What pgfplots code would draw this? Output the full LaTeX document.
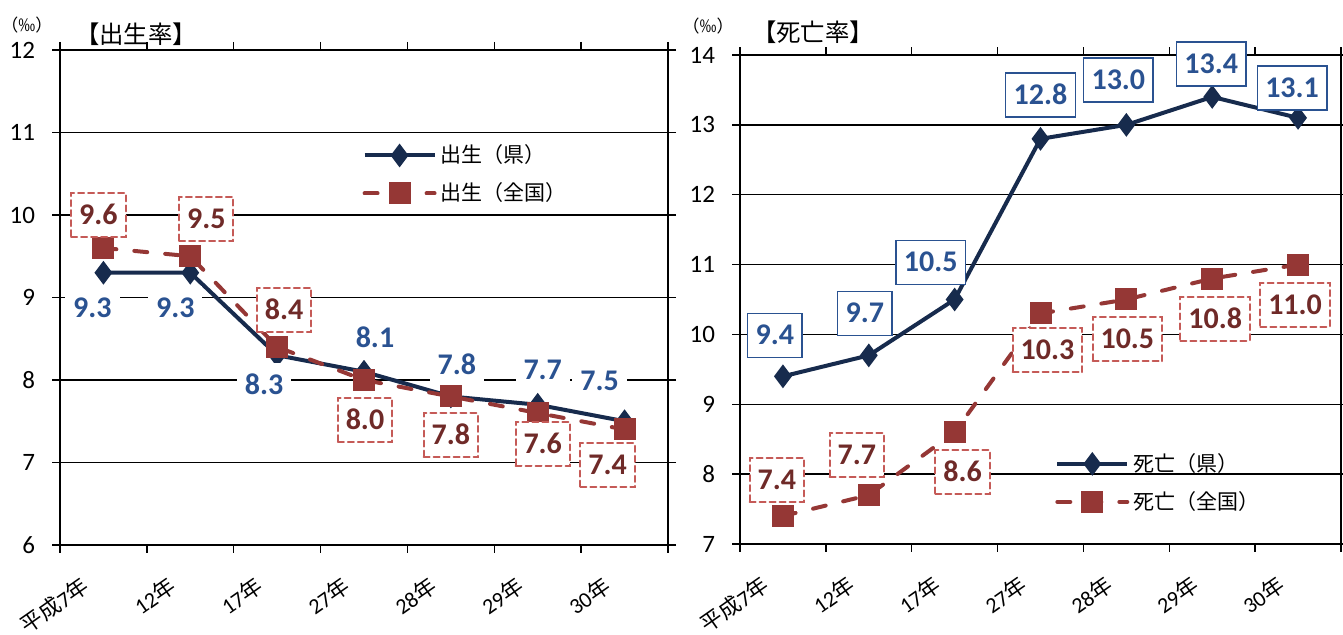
\documentclass[border=0pt]{standalone}
\usepackage{fontspec}
\setmainfont{Carlito}
\newfontfamily\jp{Noto Sans CJK JP}
\usepackage{pgfplots}
\pgfplotsset{compat=1.18}
\usepackage{pgfplotstable}

\definecolor{prefline}{HTML}{172B4D}
\definecolor{natline}{HTML}{953735}
\definecolor{nattext}{HTML}{6F2A28}
\definecolor{natborder}{HTML}{C55A57}
\definecolor{preftext}{HTML}{2A5291}

\pgfplotstableread{
x y dx dy
0 9.3 -5.5 -17.5
1 9.3 -7.5 -17.5
2 8.3 -6.5 -15
3 8.1 5.5 17
4 7.8 3 15.5
5 7.7 2.5 17.5
6 7.5 -12.5 20
}\birthpref
\pgfplotstableread{
x y dx dy
0 9.6 -2.5 16.5
1 9.5 8 18.5
2 8.4 3.5 18.5
3 8.0 0.5 -20
4 7.8 0 -19.5
5 7.6 2.5 -15.5
6 7.4 -8.5 -18
}\birthnat
\pgfplotstableread{
x y dx dy
0 9.4 -4 20.5
1 9.7 -2 21
2 10.5 -12 18.5
3 12.8 0 22
4 13.0 -4 22.5
5 13.4 -0.5 16.5
6 13.1 -3 15
}\deathpref
\pgfplotstableread{
x y dx dy
0 7.4 -3 18
1 7.7 -6 20
2 8.6 4 -20
3 10.3 3.5 -18.5
4 10.5 0.5 -20
5 10.8 1.5 -20
6 11.0 -1.5 -20
}\deathnat

\tikzset{
  natlabel/.style={draw=natborder, line width=1pt, dash pattern=on 3pt off 2pt, text=nattext},
  preflabelL/.style={draw=none, text=preftext},
  preflabelR/.style={draw=preftext, line width=0.7pt, solid, text=preftext},
}

\pgfplotsset{
  myaxis/.style={
    scale only axis,
    anchor=south west,
    xmin=-0.5, xmax=6.5,
    xtick={-0.5,0.5,...,6.5},
    xticklabels={{{\jp 平成}7{\jp 年}},{12{\jp 年}},{17{\jp 年}},{27{\jp 年}},{28{\jp 年}},{29{\jp 年}},{30{\jp 年}},{}},
    tick align=outside,
    major tick length=4pt,
    tick style={black, line width=0.7pt},
    axis line style={black, line width=0.9pt},
    ymajorgrids,
    grid style={black, line width=0.7pt},
    xticklabel style={font=\fontsize{11}{13}\selectfont, xshift=11pt, yshift=-6pt, rotate=35, anchor=north east},
    yticklabel style={font=\fontsize{12.5}{14}\selectfont, xshift=-5pt},
    /pgf/number format/assume math mode=true,
    clip=false,
    legend cell align=left,
    legend style={draw=none, fill=none, inner sep=0pt, anchor=west,
      font=\jp\fontsize{10.5}{12}\selectfont, row sep=4.5pt},
    legend image code/.code={
      \draw[##1, mark=none] (0pt,0pt) -- (35pt,0pt);
      \draw[##1, solid] plot coordinates {(17.5pt,0pt)};
    },
  },
  prefstyle/.style={color=prefline, line width=2pt, mark=diamond*, mark size=4.3pt,
    mark options={solid, fill=prefline}},
  natstyle/.style={color=natline, line width=2pt, line cap=round, dash pattern=on 6.5pt off 9pt,
    mark=square*, mark size=4.5pt, mark options={solid, fill=natline}},
  labels/.style={
    visualization depends on={\thisrow{dx} \as \labdx},
    visualization depends on={\thisrow{dy} \as \labdy},
    nodes near coords={\pgfmathprintnumber[fixed,fixed zerofill,precision=1,assume math mode=true]{\pgfplotspointmeta}},
    every node near coord/.append style={anchor=center, xshift=\labdx pt, yshift=\labdy pt,
      font=\bfseries\fontsize{15}{17}\selectfont, fill=white, inner xsep=4pt, inner ysep=0pt,
      text height=9.5pt, text depth=0pt, minimum height=22pt, #1},
  },
}

\begin{document}
\begin{tikzpicture}
\path[use as bounding box] (0,0) rectangle (671.5pt,317.5pt);

\begin{axis}[myaxis, at={(30pt,45pt)}, width=304pt, height=247.5pt,
  ymin=6, ymax=12, ytick={6,...,12},
  legend style={at={(rel axis cs:0.497,0.7485)}}]
\addplot[prefstyle, labels={preflabelL}] table[x=x,y=y] {\birthpref};
\addlegendentry{出生（県）}
\addplot[natstyle, labels={natlabel}] table[x=x,y=y] {\birthnat};
\addlegendentry{出生（全国）}
\end{axis}

\begin{axis}[myaxis, at={(370pt,45.5pt)}, width=300.5pt, height=244.5pt,
  ymin=7, ymax=14, ytick={7,...,14},
  legend style={at={(rel axis cs:0.524,0.125)}}]
\addplot[prefstyle, labels={preflabelR}] table[x=x,y=y] {\deathpref};
\addlegendentry{死亡（県）}
\addplot[natstyle, labels={natlabel}] table[x=x,y=y] {\deathnat};
\addlegendentry{死亡（全国）}
\end{axis}

\node[font=\jp\fontsize{8.5}{9}\selectfont, inner sep=0pt] at (13.5pt,305pt) {（‰）};
\node[font=\jp\fontsize{12.2}{14}\selectfont] at (68pt,300.5pt) {【出生率】};
\node[font=\jp\fontsize{8.5}{9}\selectfont, inner sep=0pt] at (354pt,304.5pt) {（‰）};
\node[font=\jp\fontsize{12.2}{14}\selectfont] at (406.5pt,301.5pt) {【死亡率】};
\end{tikzpicture}
\end{document}
